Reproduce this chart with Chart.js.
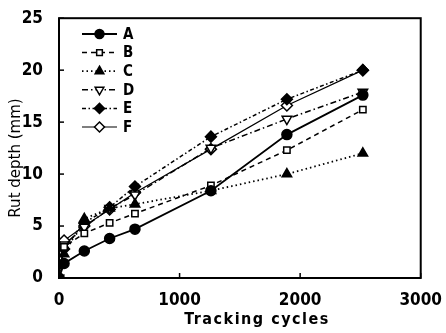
<!DOCTYPE html>
<html>
<head>
<meta charset="utf-8">
<script src="https://cdn.jsdelivr.net/npm/chart.js@4"></script>
<style>
  html, body { margin: 0; padding: 0; background: #fff; }
  #wrap { width: 446px; height: 333px; }
</style>
</head>
<body>
<div id="wrap"><canvas id="myChart" width="446" height="333"></canvas></div>
<script>
const cycles = [0, 42, 210, 420, 630, 1260, 1890, 2520]
const seriesA = [0, 1.4, 2.6, 3.8, 4.7, 8.4, 13.8, 17.6]
const seriesB = [0, 3.0, 4.3, 5.3, 6.2, 8.9, 12.3, 16.2]
const seriesC = [0, 2.3, 5.7, 6.7, 7.1, 8.4, 10.0, 12.0]
const seriesD = [0, 3.2, 4.9, 6.7, 8.0, 12.5, 15.3, 17.9]
const seriesE = [0, 2.8, 5.3, 6.8, 8.8, 13.6, 17.2, 20.0]
const seriesF = [0, 3.6, 5.0, 6.6, 8.2, 12.4, 16.6, 20.0]
const labels = ['A', 'B', 'C', 'D', 'E', 'F']
const xTicks = [0, 1000, 2000, 3000]
const yTicks = [0, 5, 10, 15, 20, 25]

const tickFont = { family: 'DejaVu Sans Condensed', size: 17, weight: 'bold' }

function pts(vals) {
  return cycles.map((c, i) => ({ x: c, y: vals[i] }))
}

const styles = [
  { dash: [], style: 'circle', fill: '#000', rot: 0, width: 1.8, r: 5 },
  { dash: [5, 4], style: 'rect', fill: '#fff', rot: 0, width: 1.5, r: 4.5 },
  { dash: [1.5, 3], style: 'triangle', fill: '#000', rot: 0, width: 1.8, r: 5.5 },
  { dash: [6, 3, 1.5, 3], style: 'triangle', fill: '#fff', rot: 180, width: 1.5, r: 5.5 },
  { dash: [4, 2.5, 1.5, 2.5], style: 'rectRot', fill: '#000', rot: 0, width: 1.5, r: 5.5 },
  { dash: [], style: 'rectRot', fill: '#fff', rot: 0, width: 1.2, r: 5.5 }
]
const allSeries = [seriesA, seriesB, seriesC, seriesD, seriesE, seriesF]

const datasets = allSeries.map((s, i) => ({
  label: labels[i],
  data: pts(s),
  borderColor: '#000',
  borderWidth: styles[i].width,
  borderDash: styles[i].dash,
  pointStyle: styles[i].style,
  pointRotation: styles[i].rot,
  pointRadius: styles[i].r,
  pointBackgroundColor: styles[i].fill,
  pointBorderColor: '#000',
  pointBorderWidth: 1.5,
  tension: 0,
  fill: false
}))

const framePlugin = {
  id: 'frame',
  afterDraw(chart) {
    const { ctx, chartArea: a, scales } = chart
    ctx.save()
    ctx.strokeStyle = '#000'
    ctx.lineWidth = 2
    ctx.strokeRect(a.left, a.top, a.right - a.left, a.bottom - a.top)
    ctx.lineWidth = 1.5
    xTicks.forEach(v => {
      const px = scales.x.getPixelForValue(v)
      ctx.beginPath(); ctx.moveTo(px, a.bottom); ctx.lineTo(px, a.bottom - 5); ctx.stroke()
    })
    yTicks.forEach(v => {
      const py = scales.y.getPixelForValue(v)
      ctx.beginPath(); ctx.moveTo(a.left, py); ctx.lineTo(a.left + 5, py); ctx.stroke()
    })
    // axis titles
    ctx.fillStyle = '#000'
    ctx.textAlign = 'center'
    ctx.textBaseline = 'middle'
    ctx.font = 'bold 16px "DejaVu Sans Condensed"'
    if ('letterSpacing' in ctx) ctx.letterSpacing = '1.5px'
    ctx.fillText('Tracking cycles', 257, 320)
    if ('letterSpacing' in ctx) ctx.letterSpacing = '0px'
    ctx.save()
    ctx.translate(16, 158)
    ctx.rotate(-Math.PI / 2)
    ctx.font = '15px "DejaVu Sans"'
    ctx.fillText('Rut depth (mm)', 0, 0)
    ctx.restore()
    // legend
    ctx.font = 'bold 15px "DejaVu Sans Condensed"'
    ctx.textAlign = 'left'
    chart.data.datasets.forEach((ds, i) => {
      const y = 34 + i * 18.6
      ctx.save()
      ctx.lineWidth = ds.borderWidth
      ctx.setLineDash(ds.borderDash)
      ctx.beginPath(); ctx.moveTo(82, y); ctx.lineTo(117, y); ctx.stroke()
      ctx.restore()
      ctx.save()
      ctx.lineWidth = ds.pointBorderWidth
      ctx.fillStyle = ds.pointBackgroundColor
      ctx.strokeStyle = '#000'
      Chart.helpers.drawPoint(ctx, { pointStyle: ds.pointStyle, rotation: ds.pointRotation, radius: ds.pointRadius - 0.5, borderWidth: ds.pointBorderWidth }, 99.5, y)
      ctx.restore()
      ctx.fillText(ds.label, 123, y + 1)
    })
    ctx.restore()
  }
}

const ctx = document.getElementById('myChart')

new Chart(ctx, {
  type: 'line',
  data: { datasets },
  options: {
    responsive: false,
    animation: false,
    devicePixelRatio: 1,
    layout: { padding: { left: 0, right: 19, top: 16, bottom: 0 } },
    plugins: {
      legend: { display: false },
      tooltip: { enabled: false }
    },
    scales: {
      x: {
        type: 'linear',
        min: 0,
        max: 3000,
        afterBuildTicks: s => { s.ticks = xTicks.map(v => ({ value: v })) },
        afterFit: s => { s.height = 55 },
        grid: { display: false },
        border: { display: false },
        ticks: { color: '#000', font: tickFont, padding: 4, maxRotation: 0, callback: v => String(v) }
      },
      y: {
        min: 0,
        max: 25,
        afterBuildTicks: s => { s.ticks = yTicks.map(v => ({ value: v })) },
        afterFit: s => { s.width = 59 },
        grid: { display: false },
        border: { display: false },
        ticks: { color: '#000', font: tickFont, padding: 8, callback: v => String(v) }
      }
    }
  },
  plugins: [framePlugin]
})
</script>
</body>
</html>
